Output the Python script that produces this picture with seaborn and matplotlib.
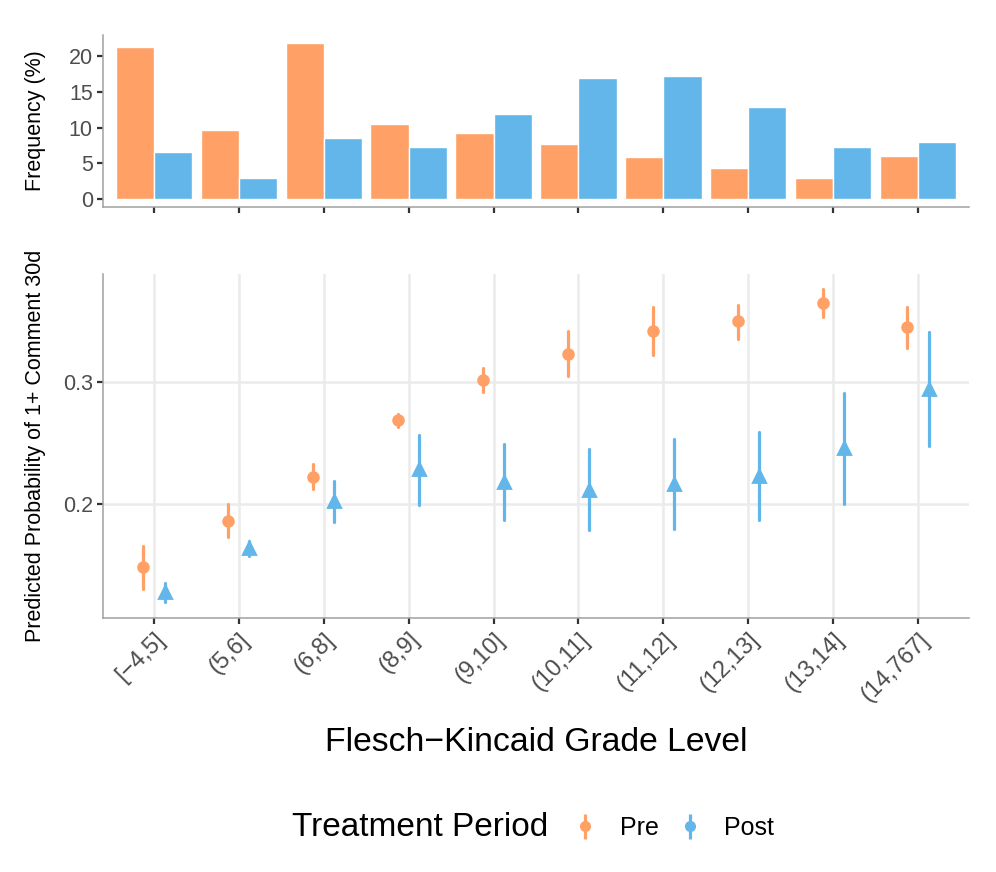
import numpy as np
import pandas as pd
import matplotlib.pyplot as plt
import seaborn as sns
from matplotlib.lines import Line2D

# Kategoriler
grades = ['[−4,5]', '(5,6]', '(6,8]', '(8,9]', '(9,10]', '(10,11]',
          '(11,12]', '(12,13]', '(13,14]', '(14,767]']
periods = ['Pre', 'Post']

# Üst panel: frekans (%)
freq_pre = [21.2, 9.7, 21.8, 10.5, 9.25, 7.75, 5.95, 4.35, 2.95, 6.05]
freq_post = [6.55, 3.0, 8.5, 7.3, 11.9, 16.95, 17.25, 12.8, 7.35, 8.0]

# Alt panel: tahmin ve güven aralıkları
prob_pre = [0.148, 0.186, 0.222, 0.2685, 0.302, 0.323, 0.342, 0.350, 0.365, 0.345]
lo_pre = [0.130, 0.1726, 0.2118, 0.2628, 0.2915, 0.3049, 0.3222, 0.3356, 0.3537, 0.3282]
hi_pre = [0.1652, 0.1995, 0.2324, 0.274, 0.3118, 0.3417, 0.3616, 0.3636, 0.3761, 0.3616]

prob_post = [0.1277, 0.1633, 0.2022, 0.2282, 0.2181, 0.2113, 0.2162, 0.2228, 0.2455, 0.2942]
lo_post = [0.1195, 0.157, 0.185, 0.1989, 0.1868, 0.1787, 0.1792, 0.1868, 0.1995, 0.2477]
hi_post = [0.1351, 0.1693, 0.2184, 0.2565, 0.2488, 0.245, 0.2529, 0.2589, 0.291, 0.3413]

colors = {'Pre': '#FFA166', 'Post': '#62B6EA'}

freq_df = pd.DataFrame({
    'grade': grades * 2,
    'period': ['Pre'] * len(grades) + ['Post'] * len(grades),
    'freq': freq_pre + freq_post,
})

rows = []
for p, est, lo, hi in [('Pre', prob_pre, lo_pre, hi_pre), ('Post', prob_post, lo_post, hi_post)]:
    for g, e, l, h in zip(grades, est, lo, hi):
        for v in (l, e, h):
            rows.append({'grade': g, 'period': p, 'prob': v})
prob_df = pd.DataFrame(rows)

sns.set_style('white')
plt.rcParams['font.family'] = ['Liberation Sans', 'DejaVu Sans']
plt.rcParams['text.color'] = 'black'
plt.rcParams['axes.labelcolor'] = 'black'

tick_grey = '#4D4D4D'
spine_grey = '#A0A0A0'

fig = plt.figure(figsize=(9.96, 8.72), dpi=100)
ax_top = fig.add_axes([0.1034, 0.7626, 0.8695, 0.1972])
ax_bot = fig.add_axes([0.1034, 0.2909, 0.8695, 0.3948])

# Üst panel: çubuklar
sns.barplot(data=freq_df, x='grade', y='freq', hue='period', order=grades,
            hue_order=periods, palette=colors, width=0.9, saturation=1,
            legend=False, ax=ax_top)
ax_top.set_xlim(-0.6, 9.6)
ax_top.set_ylim(-1.09, 22.9)
ax_top.set_yticks([0, 5, 10, 15, 20])
ax_top.set_xticklabels([])
ax_top.set_xlabel('')
ax_top.set_ylabel('Frequency (%)', fontsize=15.5)
ax_top.yaxis.set_label_coords(-0.066, 0.5)

# Alt panel: nokta + hata çubuğu
sns.pointplot(data=prob_df, x='grade', y='prob', hue='period', order=grades,
              hue_order=periods, palette=colors, estimator='median',
              errorbar=lambda v: (v.min(), v.max()), dodge=0.25,
              markers=['o', '^'], linestyles=['none', 'none'],
              err_kws={'linewidth': 2.3}, legend=False, ax=ax_bot)
for ln in ax_bot.lines:
    if ln.get_marker() == 'o':
        ln.set_markersize(7)
    elif ln.get_marker() == '^':
        ln.set_markersize(9)
ax_bot.set_xlim(-0.6, 9.6)
ax_bot.set_ylim(0.1058, 0.3887)
ax_bot.set_yticks([0.2, 0.3])
ax_bot.set_yticklabels(['0.2', '0.3'])
ax_bot.grid(True, color='#EBEBEB', linewidth=1.8)
ax_bot.set_axisbelow(True)
ax_bot.set_ylabel('Predicted Probability of 1+ Comment 30d', fontsize=15.5)
ax_bot.yaxis.set_label_coords(-0.066, 0.5)
ax_bot.set_xlabel('Flesch−Kincaid Grade Level', fontsize=24.3)
ax_bot.xaxis.set_label_coords(0.5, -0.316)
ax_bot.set_xticks(range(len(grades)))
ax_bot.set_xticklabels(grades, rotation=45, ha='right', rotation_mode='anchor')

for ax in (ax_top, ax_bot):
    for side in ('top', 'right'):
        ax.spines[side].set_visible(False)
    for side in ('left', 'bottom'):
        ax.spines[side].set_color(spine_grey)
        ax.spines[side].set_linewidth(1.1)
    ax.tick_params(axis='both', bottom=True, left=True, direction='out',
                   length=4.3, width=1.6, color='#333333',
                   labelcolor=tick_grey, pad=3)
    ax.tick_params(axis='y', labelsize=15.5)
    ax.tick_params(axis='x', labelsize=17)

# Lejant
fig.text(0.293, 0.0505, 'Treatment Period', fontsize=24, va='center',
         ha='left', color='black')
handles = [(Line2D([], [], marker='|', markersize=18, markeredgewidth=2.3,
                   color=colors[p], linestyle='None'),
            Line2D([], [], marker='o', markersize=7, color=colors[p],
                   linestyle='None')) for p in periods]
fig.legend(handles, periods, loc='center left', bbox_to_anchor=(0.550, 0.0505),
           ncol=2, frameon=False, fontsize=18, handlelength=1.2,
           handletextpad=0.78, columnspacing=0.64, labelcolor='black')

plt.savefig('out.png', dpi=100)
